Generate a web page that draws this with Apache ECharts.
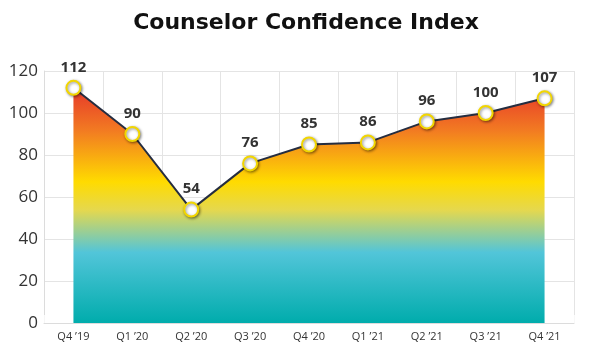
<!DOCTYPE html>
<html>
<head>
<meta charset="utf-8">
<script src="https://cdn.jsdelivr.net/npm/echarts@6/dist/echarts.min.js"></script>
<style>
  html, body { margin: 0; padding: 0; background: #fff; }
  #main { width: 612px; height: 354px; }
</style>
</head>
<body>
<div id="main"></div>
<script>
var quarters = ['Q4 \u201919', 'Q1 \u201920', 'Q2 \u201920', 'Q3 \u201920', 'Q4 \u201920', 'Q1 \u201921', 'Q2 \u201921', 'Q3 \u201921', 'Q4 \u201921'];
var confidence = [112, 90, 54, 76, 85, 86, 96, 100, 107];
var yTicks = [0, 20, 40, 60, 80, 100, 120];

var chartDom = document.getElementById('main');
var myChart = echarts.init(chartDom);
var option;

option = {
    animation: false,
    title: {
        text: 'Counselor Confidence Index',
        left: 'center',
        top: 7,
        textStyle: {
            fontFamily: 'DejaVu Sans',
            fontWeight: 'bold',
            fontSize: 22,
            color: '#111'
        }
    },
    grid: {
        left: 44,
        right: 38,
        top: 71,
        bottom: 31
    },
    xAxis: {
        type: 'category',
        data: quarters,
        boundaryGap: true,
        axisLine: { show: true, lineStyle: { color: '#dcdcdc', width: 1 } },
        axisTick: { show: true, inside: true, length: 8, lineStyle: { color: 'rgba(255,255,255,0.75)', width: 1 } },
        splitLine: { show: true, lineStyle: { color: '#e4e4e4', width: 1 } },
        axisLabel: {
            fontFamily: 'Open Sans',
            fontSize: 11,
            color: '#333',
            margin: 8
        }
    },
    yAxis: {
        type: 'value',
        min: yTicks[0],
        max: yTicks[yTicks.length - 1],
        interval: 20,
        axisLine: { show: true, lineStyle: { color: '#dcdcdc', width: 1 } },
        axisTick: { show: false },
        splitLine: { show: true, lineStyle: { color: '#e4e4e4', width: 1 } },
        axisLabel: {
            fontFamily: 'Open Sans',
            fontSize: 17,
            color: '#333',
            margin: 6
        }
    },
    series: [
        {
            type: 'line',
            data: confidence,
            symbol: 'circle',
            symbolSize: 14,
            z: 3,
            lineStyle: { color: '#252d40', width: 2 },
            itemStyle: {
                color: '#fff',
                borderColor: '#f2d600',
                borderWidth: 2,
                shadowBlur: 3,
                shadowColor: 'rgba(0,0,0,0.45)',
                shadowOffsetX: 1,
                shadowOffsetY: 1
            },
            label: {
                show: true,
                position: 'top',
                distance: 5,
                fontFamily: 'Open Sans',
                fontWeight: 'bold',
                fontSize: 15,
                color: '#333'
            },
            areaStyle: {
                opacity: 1,
                color: new echarts.graphic.LinearGradient(0, 0, 0, 1, [
                    { offset: 0, color: '#e6372a' },
                    { offset: 0.18, color: '#f27a22' },
                    { offset: 0.40, color: '#ffdb00' },
                    { offset: 0.52, color: '#e5d84e' },
                    { offset: 0.70, color: '#52c5d9' },
                    { offset: 1, color: '#00acac' }
                ])
            }
        }
    ]
};

option && myChart.setOption(option);
</script>
</body>
</html>
